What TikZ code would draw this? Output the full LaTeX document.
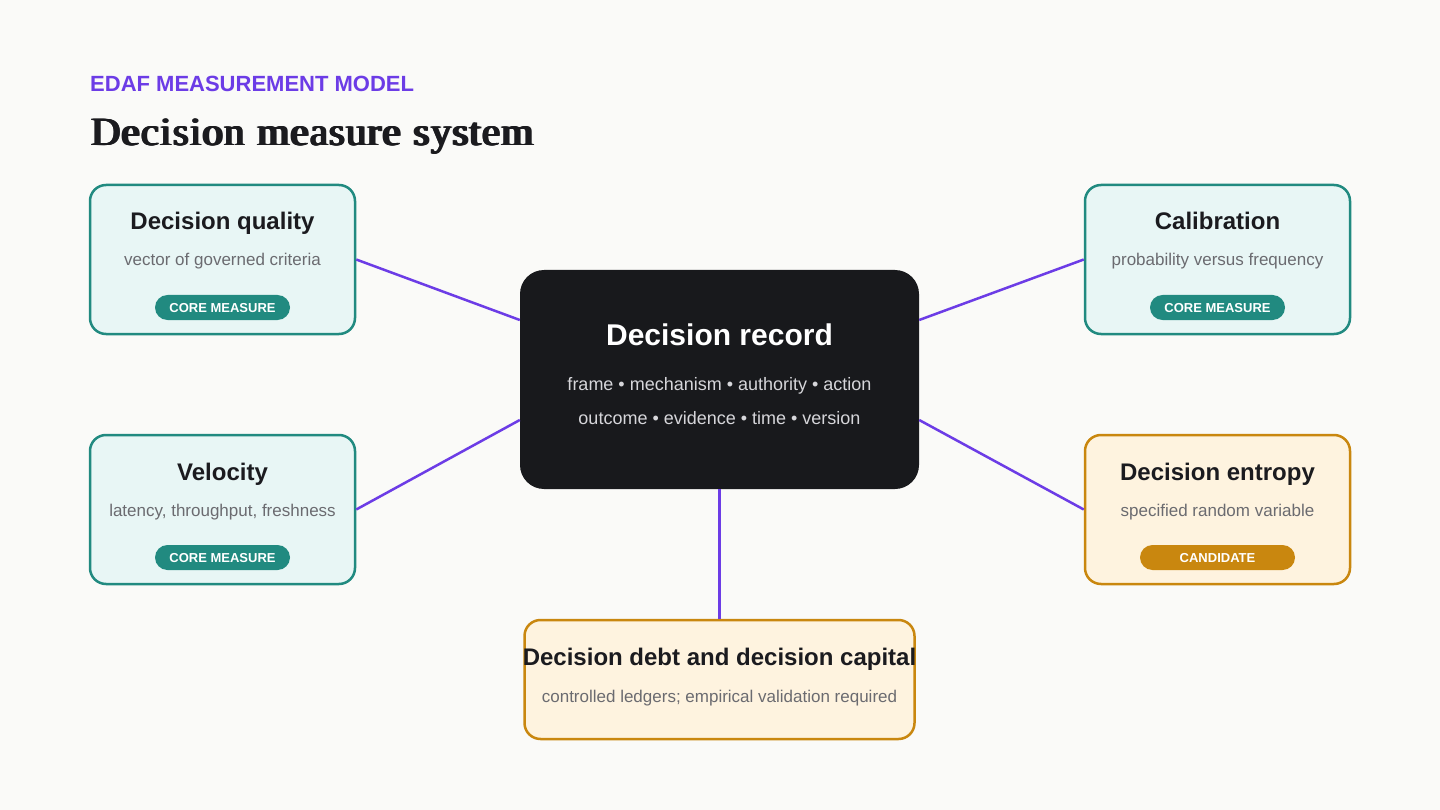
\documentclass[tikz,border=0pt]{standalone}
\usepackage{fontspec}
\setmainfont{Liberation Sans}
\newfontfamily\serifbold[FakeStretch=1.02,LetterSpace=3,WordSpace=1.15]{Liberation Serif}
\newcommand\heavytxt[1]{\rlap{#1}\kern0.6pt\rlap{#1}\kern0.6pt\rlap{#1}\kern0.6pt\rlap{#1}\kern0.6pt#1}
\usetikzlibrary{calc}
\definecolor{bg}{HTML}{FAFAF8}
\definecolor{purp}{HTML}{6C3CE6}
\definecolor{ink}{HTML}{1B1B1F}
\definecolor{teal}{HTML}{218A80}
\definecolor{tealfill}{HTML}{E8F6F5}
\definecolor{amber}{HTML}{C9870F}
\definecolor{amberfill}{HTML}{FEF3DF}
\definecolor{sub}{HTML}{6B6B70}
\definecolor{recbg}{HTML}{18191C}
\definecolor{recsub}{HTML}{D6D6DA}
\tikzset{
  card/.style={draw, line width=2.5pt, rounded corners=16pt, minimum width=265pt, minimum height=149pt, inner sep=0pt},
  tealcard/.style={card, draw=teal, fill=tealfill},
  ambercard/.style={card, draw=amber, fill=amberfill},
  ctitle/.style={font=\fontsize{24}{28}\selectfont\bfseries, text=ink, inner sep=0pt},
  csub/.style={font=\fontsize{17}{20}\selectfont, text=sub, inner sep=0pt},
  badge/.style={rounded corners=12.5pt, minimum height=25pt, inner sep=0pt, text height=9.5pt, text depth=0pt, text=white, font=\fontsize{13}{15}\selectfont\bfseries},
  link/.style={draw=purp, line width=2.5pt},
}
\begin{document}
\begin{tikzpicture}[x=1pt,y=-1pt]
\fill[bg] (0,0) rectangle (1440,810);
\useasboundingbox (0,0) rectangle (1440,810);

\node[anchor=base west, inner sep=0pt, text=purp, font=\fontsize{22}{26}\selectfont\bfseries] (kicker) at (90,92) {EDAF MEASUREMENT MODEL};
\node[anchor=base west, inner sep=0pt, text=ink, font=\fontsize{40}{46}\selectfont\serifbold] (title) at (90,146) {\heavytxt{Decision measure system}};

% cards
\node[tealcard] (dq) at (222.5,259.5) {};
\node[tealcard] (vel) at (222.5,509.5) {};
\node[tealcard] (cal) at (1217.5,259.5) {};
\node[ambercard] (ent) at (1217.5,509.5) {};
\node[ambercard, minimum width=390pt, minimum height=119pt] (debt) at (719.5,679.5) {};
\node[fill=recbg, rounded corners=24pt, minimum width=399pt, minimum height=219pt, inner sep=0pt] (rec) at (719.5,379.5) {};

% connectors
\draw[link] (dq.east) -- ($(rec.west)+(0,-59.5)$);
\draw[link] (vel.east) -- ($(rec.west)+(0,40.5)$);
\draw[link] (cal.west) -- ($(rec.east)+(0,-59.5)$);
\draw[link] (ent.west) -- ($(rec.east)+(0,40.5)$);
\draw[link] (rec.south) -- (debt.north);

% card texts
\node[ctitle, anchor=base] (dqt) at (222.5,230) {Decision quality};
\node[csub, anchor=base] (dqs) at (222.5,266) {vector of governed criteria};
\node[badge, fill=teal, minimum width=135pt] (dqb) at (222.5,307.5) {CORE MEASURE};

\node[ctitle, anchor=base] (velt) at (222.5,480) {Velocity};
\node[csub, anchor=base] (vels) at (222.5,516) {latency, throughput, freshness};
\node[badge, fill=teal, minimum width=135pt] (velb) at (222.5,557.5) {CORE MEASURE};

\node[ctitle, anchor=base] (calt) at (1217.5,230) {Calibration};
\node[csub, anchor=base] (cals) at (1217.5,266) {probability versus frequency};
\node[badge, fill=teal, minimum width=135pt] (calb) at (1217.5,307.5) {CORE MEASURE};

\node[ctitle, anchor=base] (entt) at (1217.5,480) {Decision entropy};
\node[csub, anchor=base] (ents) at (1217.5,516) {specified random variable};
\node[badge, fill=amber, minimum width=155pt] (entb) at (1217.5,557.5) {CANDIDATE};

\node[ctitle, anchor=base] (debtt) at (719.5,665) {Decision debt and decision capital};
\node[csub, anchor=base] (debts) at (719.5,702) {controlled ledgers; empirical validation required};

% record texts
\node[anchor=base, inner sep=0pt, text=white, font=\fontsize{30}{34}\selectfont\bfseries] (rect) at (719.5,345) {Decision record};
\node[anchor=base, inner sep=0pt, text=recsub, font=\fontsize{18}{21}\selectfont] (recl1) at (719.5,390) {frame • mechanism • authority • action};
\node[anchor=base, inner sep=0pt, text=recsub, font=\fontsize{18}{21}\selectfont] (recl2) at (719.5,424) {outcome • evidence • time • version};
\end{tikzpicture}
\end{document}
